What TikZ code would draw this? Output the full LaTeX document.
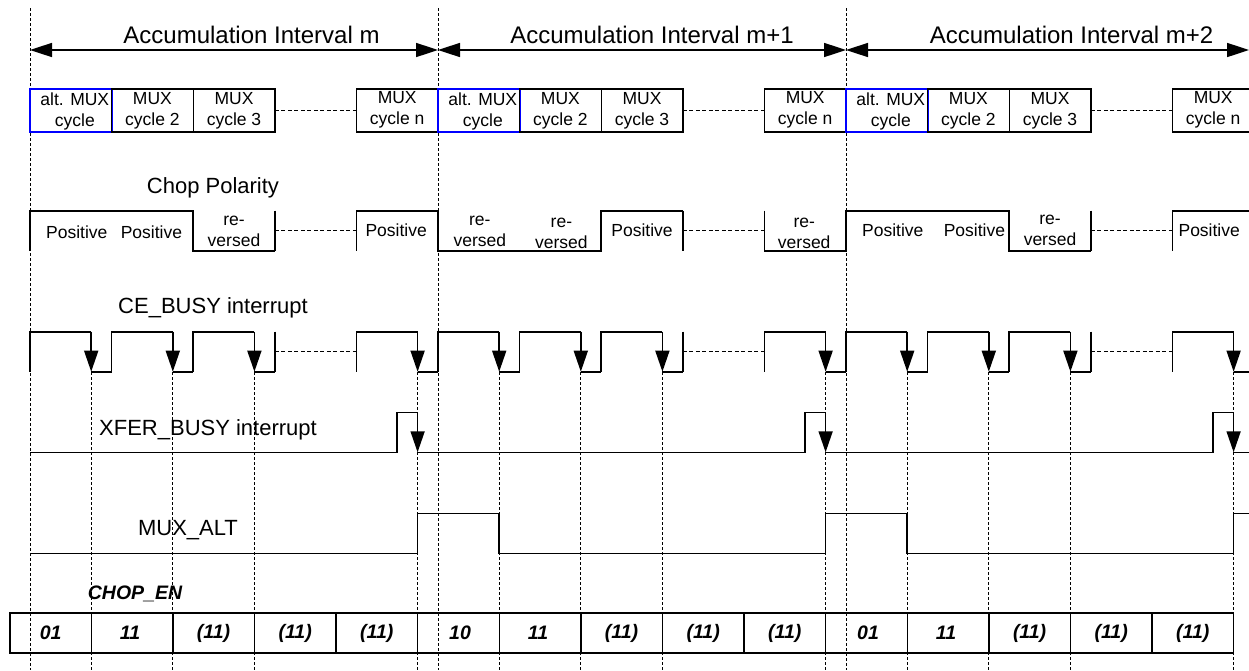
\documentclass[tikz,border=0pt]{standalone}
\usepackage{fontspec}
\setmainfont{Liberation Sans}
\usetikzlibrary{arrows.meta}
\tikzset{
  sig/.style={line width=1.6pt, line join=miter},
  gridline/.style={line width=1pt, dash pattern=on 3pt off 2pt},
  elide/.style={line width=1.2pt, dash pattern=on 4pt off 2.5pt},
  downarr/.style={line width=1.6pt, -{Triangle[length=21pt,width=14pt]}},
  spanarr/.style={line width=1.6pt, {Triangle[length=22pt,width=14pt]}-{Triangle[length=22pt,width=14pt]}},
  biglbl/.style={font=\fontsize{24}{28}\selectfont, inner sep=0},
  lbl/.style={font=\fontsize{22}{26}\selectfont, inner sep=0},
  small/.style={font=\fontsize{17.5}{21}\selectfont, inner sep=0, align=center},
  bi/.style={font=\fontsize{19.5}{22}\selectfont\bfseries\itshape, inner sep=0},
  muxbox/.style={draw, line width=1.4pt},
  altbox/.style={draw=blue, line width=2pt},
}
\begin{document}
\begin{tikzpicture}[x=1pt,y=-1pt]
\useasboundingbox (0,0) rectangle (1249,670);
\def\c{81.6}
% interval boundaries
\foreach \x in {30,438,846} \draw[gridline] (\x,8) -- (\x,670);
% interrupt dashed lines
\foreach \s in {30,438,846} {
  \foreach \k in {0,1,2,4} \draw[gridline] ({\s+\k*\c+61.2},372) -- ({\s+\k*\c+61.2},670);
}
% accumulation arrows
\draw[spanarr] (30,50) -- (438,50);
\draw[spanarr] (438,50) -- (846,50);
\draw[spanarr] (846,50) -- (1249,50);
\node[biglbl] (acc1) at (251.5,35) {Accumulation Interval m};
\node[biglbl] (acc2) at (652,35) {Accumulation Interval m+1};
\node[biglbl] (acc3) at (1071.5,35) {Accumulation Interval m+2};
% MUX boxes
\foreach \s/\i in {30/1,438/2,846/3} {
  \draw[altbox] (\s,89) rectangle ({\s+\c},132);
  \draw[muxbox] ({\s+\c},89) rectangle ({\s+2*\c},132);
  \draw[muxbox] ({\s+2*\c},89) rectangle ({\s+3*\c},132);
  \draw[elide] ({\s+3*\c},110.5) -- ({\s+4*\c},110.5);
  \draw[muxbox] ({\s+4*\c},89) rectangle ({\s+5*\c},132);
  \node[small] (alt\i) at ({\s+0.5*\c+4},111) {alt. MUX\\cycle};
  \node[small] (mtwo\i) at ({\s+1.5*\c},111) {MUX\\cycle 2};
  \node[small] (mthree\i) at ({\s+2.5*\c},111) {MUX\\cycle 3};
  \node[small] (mn\i) at ({\s+4.5*\c},110) {MUX\\cycle n};
}
% Chop polarity
\node[lbl] (chop) at (213,188) {Chop Polarity};
\def\hi{210.7}\def\lo{250.7}\def\md{230.7}
% interval 1
\draw[sig] (30,\lo) -- (30,\hi) -- ({30+2*\c},\hi) -- ({30+2*\c},\lo) -- ({30+3*\c},\lo);
\draw[sig] ({30+3*\c},\hi) -- ({30+3*\c},\lo);
\draw[elide] ({30+3*\c},\md) -- ({30+4*\c},\md);
\draw[sig] ({30+4*\c},\lo) -- ({30+4*\c},\hi) -- (438,\hi) -- (438,\lo) -- ({438+2*\c},\lo) -- ({438+2*\c},\hi) -- ({438+3*\c},\hi);
% interval 2
\draw[sig] ({438+3*\c},\hi) -- ({438+3*\c},\lo);
\draw[elide] ({438+3*\c},\md) -- ({438+4*\c},\md);
\draw[sig] ({438+4*\c},\hi) -- ({438+4*\c},\lo) -- (846,\lo) -- (846,\hi) -- ({846+2*\c},\hi) -- ({846+2*\c},\lo) -- ({846+3*\c},\lo);
% interval 3
\draw[sig] ({846+3*\c},\hi) -- ({846+3*\c},\lo);
\draw[elide] ({846+3*\c},\md) -- ({846+4*\c},\md);
\draw[sig] ({846+4*\c},\lo) -- ({846+4*\c},\hi) -- (1252,\hi);
% polarity labels
\node[small] (p11) at ({30+0.5*\c+6},232) {Positive};
\node[small] (p12) at ({30+1.5*\c-1},232) {Positive};
\node[small] (p13) at ({30+2.5*\c},231.5) {re-\\versed};
\node[small] (p1n) at ({30+4.5*\c-1},230) {Positive};
\node[small] (p21) at ({438+0.5*\c+1},231.5) {re-\\versed};
\node[small] (p22) at ({438+1.5*\c+1},233) {re-\\versed};
\node[small] (p23) at ({438+2.5*\c},230) {Positive};
\node[small] (p2n) at ({438+4.5*\c-1},233) {re-\\versed};
\node[small] (p31) at ({846+0.5*\c+6},230) {Positive};
\node[small] (p32) at ({846+1.5*\c+6},230) {Positive};
\node[small] (p33) at ({846+2.5*\c},230.5) {re-\\versed};
\node[small] (p3n) at ({846+4.5*\c-4},230) {Positive};
% CE_BUSY
\node[lbl] (ce) at (213,308) {CE\_BUSY interrupt};
\def\ch{331.7}\def\cl{371.7}\def\cm{351.7}
\foreach \s in {30,438,846} {
  \foreach \k in {0,1,2} {
    \draw[sig] ({\s+\k*\c},\cl) -- ({\s+\k*\c},\ch) -- ({\s+\k*\c+61.2},\ch);
    \draw[sig] ({\s+\k*\c+61.2},\cl) -- ({\s+(\k+1)*\c},\cl);
    \draw[downarr] ({\s+\k*\c+61.2},\ch) -- ({\s+\k*\c+61.2},\cl);
  }
  \draw[sig] ({\s+3*\c},\ch) -- ({\s+3*\c},\cl);
  \draw[elide] ({\s+3*\c},\cm) -- ({\s+4*\c},\cm);
  \draw[sig] ({\s+4*\c},\cl) -- ({\s+4*\c},\ch) -- ({\s+4*\c+61.2},\ch);
  \draw[sig] ({\s+4*\c+61.2},\cl) -- ({\s+5*\c},\cl);
  \draw[downarr] ({\s+4*\c+61.2},\ch) -- ({\s+4*\c+61.2},\cl);
}
% XFER_BUSY
\node[lbl] (xfer) at (208,430) {XFER\_BUSY interrupt};
\def\xh{412.3}\def\xl{452.3}
\draw[sig] (30,\xl) -- (397,\xl) -- (397,\xh) -- (417.6,\xh);
\draw[sig] (417.6,\xl) -- (805,\xl) -- (805,\xh) -- (825.6,\xh);
\draw[sig] (825.6,\xl) -- (1213,\xl) -- (1213,\xh) -- (1233.6,\xh);
\draw[sig] (1233.6,\xl) -- (1252,\xl);
\foreach \x in {417.6,825.6,1233.6} \draw[downarr] (\x,\xh) -- (\x,\xl);
% MUX_ALT
\node[lbl] (muxalt) at (188,530) {MUX\_ALT};
\def\mh{513.3}\def\ml{553.3}
\draw[sig] (30,\ml) -- (417.6,\ml) -- (417.6,\mh) -- (499.2,\mh) -- (499.2,\ml) -- (825.6,\ml) -- (825.6,\mh) -- (907.2,\mh) -- (907.2,\ml) -- (1233.6,\ml) -- (1233.6,\mh) -- (1252,\mh);
% CHOP_EN
\node[bi] (chopen) at (135,594) {CHOP\_EN};
\draw[muxbox] (10,613) rectangle (1233.6,653);
\foreach \x in {91.2,172.8,254.4,336,417.6,499.2,580.8,662.4,744,825.6,907.2,988.8,1070.4,1152} \draw[line width=1.4pt] (\x,613) -- (\x,653);
\node[bi] (e1) at (50.6,633) {01};
\node[bi] (e2) at (130,633) {11};
\node[bi] (e3) at (213.6,633) {(11)};
\node[bi] (e4) at (295.2,633) {(11)};
\node[bi] (e5) at (376.8,633) {(11)};
\node[bi] (e6) at (460,633) {10};
\node[bi] (e7) at (538,633) {11};
\node[bi] (e8) at (621.6,633) {(11)};
\node[bi] (e9) at (703.2,633) {(11)};
\node[bi] (e10) at (784.8,633) {(11)};
\node[bi] (e11) at (868,633) {01};
\node[bi] (e12) at (946,633) {11};
\node[bi] (e13) at (1029.6,633) {(11)};
\node[bi] (e14) at (1111.2,633) {(11)};
\node[bi] (e15) at (1192.8,633) {(11)};
\end{tikzpicture}
\end{document}
